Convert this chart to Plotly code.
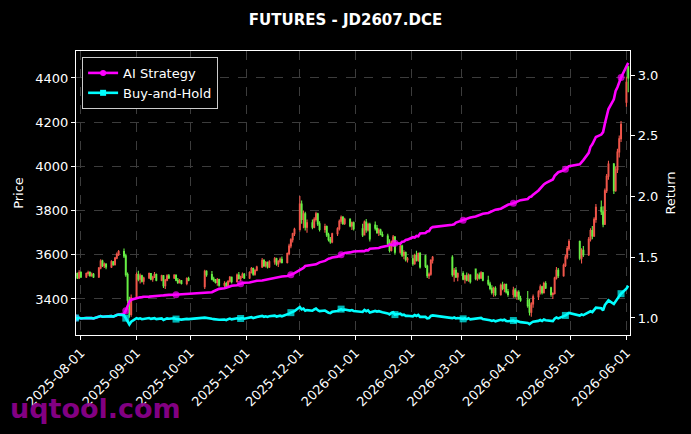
import pandas as pd
import plotly.graph_objects as go

# ---------------- data ----------------
holidays = ["2025-10-01", "2025-10-02", "2025-10-03", "2025-10-06", "2025-10-07", "2025-10-08",
            "2026-01-01", "2026-01-02",
            "2026-02-16", "2026-02-17", "2026-02-18", "2026-02-19", "2026-02-20", "2026-02-23",
            "2026-04-06", "2026-05-01", "2026-05-04", "2026-05-05"]
dates = [d for d in pd.bdate_range("2025-07-29", "2026-06-02") if d.strftime("%Y-%m-%d") not in holidays]

open_ = [
    3505, 3515, 3495,
    3520, 3500, 3515, 3520, 3505, 3512, 3500, 3540, 3572, 3550, 3558, 3545, 3568, 3555, 3585, 3602, 3615, 3595, 3510, 3395, 3330,
    3405, 3510, 3490, 3505, 3480, 3495, 3515, 3490, 3498, 3510, 3485, 3505, 3460, 3485, 3505, 3495, 3508, 3485, 3475, 3482, 3470, 3492,
    3455, 3525, 3510, 3490, 3482, 3475, 3488, 3462, 3470, 3452, 3480, 3498, 3478, 3508, 3492, 3500, 3512,
    3495, 3520, 3538, 3512, 3530, 3545, 3575, 3550, 3565, 3545, 3568, 3582, 3558, 3570, 3580, 3565, 3605, 3640, 3668, 3695,
    3715, 3830, 3760, 3785, 3725, 3745, 3725, 3760, 3785, 3740, 3715, 3728, 3690, 3668, 3658, 3695, 3718, 3752, 3770, 3742, 3760, 3730, 3745,
    3718, 3690, 3748, 3712, 3738, 3735, 3720, 3700, 3712, 3692, 3685, 3650, 3620, 3658, 3680, 3612, 3640, 3598, 3610, 3578,
    3582, 3560, 3598, 3575, 3605, 3595, 3548, 3505, 3512, 3575, 3588, 3510, 3530, 3500,
    3515, 3490, 3505, 3485, 3508, 3535, 3492, 3508, 3495, 3518, 3485, 3468, 3448, 3430, 3448, 3420, 3462, 3448, 3465, 3432, 3420, 3440,
    3412, 3430, 3402, 3395, 3370, 3340, 3378, 3410, 3432, 3455, 3428, 3470, 3450, 3420, 3425, 3495, 3530, 3505, 3552, 3590, 3628,
    3660, 3585, 3620, 3600, 3670, 3710, 3685, 3760, 3815, 3795, 3738, 3890, 3955, 4010, 3890, 3985, 4065, 4125,
    4290, 4450]
high = [
    3525, 3520, 3530,
    3525, 3520, 3528, 3525, 3520, 3518, 3545, 3580, 3578, 3565, 3562, 3575, 3572, 3590, 3610, 3622, 3628, 3605, 3520, 3410, 3420,
    3520, 3528, 3515, 3510, 3500, 3520, 3518, 3505, 3522, 3515, 3510, 3508, 3490, 3512, 3513, 3512, 3510, 3495, 3490, 3486, 3498, 3500,
    3532, 3530, 3527, 3500, 3490, 3495, 3492, 3480, 3478, 3485, 3504, 3502, 3515, 3522, 3505, 3520, 3518,
    3525, 3545, 3542, 3535, 3550, 3585, 3580, 3572, 3570, 3575, 3590, 3586, 3575, 3588, 3592, 3610, 3650, 3675, 3700, 3722,
    3866, 3845, 3800, 3795, 3760, 3760, 3770, 3795, 3790, 3752, 3740, 3732, 3700, 3680, 3700, 3725, 3760, 3778, 3775, 3768, 3765, 3750, 3750,
    3740, 3755, 3762, 3745, 3745, 3750, 3735, 3720, 3718, 3705, 3695, 3670, 3665, 3690, 3685, 3650, 3645, 3620, 3615, 3590,
    3600, 3605, 3618, 3610, 3612, 3600, 3555, 3520, 3580, 3595, 3598, 3540, 3545, 3520,
    3525, 3510, 3520, 3515, 3512, 3538, 3515, 3520, 3525, 3522, 3505, 3478, 3462, 3455, 3458, 3470, 3478, 3470, 3470, 3445, 3455, 3450,
    3438, 3440, 3415, 3436, 3400, 3385, 3420, 3440, 3465, 3460, 3478, 3480, 3455, 3430, 3500, 3545, 3540, 3560, 3600, 3640, 3670,
    3665, 3630, 3640, 3680, 3720, 3730, 3770, 3830, 3845, 3820, 3900, 3965, 4025, 4015, 4000, 4080, 4140, 4205,
    4405, 4455]
low = [
    3495, 3490, 3490,
    3495, 3495, 3505, 3500, 3500, 3495, 3495, 3535, 3545, 3540, 3535, 3540, 3550, 3552, 3580, 3595, 3585, 3500, 3380, 3315, 3320,
    3400, 3480, 3470, 3475, 3465, 3490, 3485, 3478, 3495, 3480, 3480, 3450, 3445, 3480, 3490, 3490, 3480, 3468, 3470, 3466, 3462, 3480,
    3445, 3500, 3485, 3478, 3470, 3460, 3455, 3448, 3445, 3450, 3475, 3470, 3475, 3488, 3480, 3495, 3490,
    3490, 3515, 3505, 3505, 3525, 3540, 3545, 3542, 3538, 3540, 3555, 3550, 3545, 3562, 3560, 3560, 3598, 3630, 3655, 3685,
    3705, 3740, 3720, 3710, 3700, 3715, 3720, 3750, 3730, 3705, 3700, 3680, 3660, 3650, 3652, 3685, 3710, 3740, 3735, 3735, 3725, 3712, 3710,
    3680, 3688, 3700, 3705, 3660, 3710, 3695, 3685, 3688, 3680, 3640, 3610, 3615, 3650, 3600, 3605, 3590, 3580, 3570, 3565,
    3550, 3555, 3570, 3568, 3538, 3540, 3495, 3490, 3505, 3560, 3500, 3478, 3495, 3480,
    3485, 3470, 3480, 3478, 3470, 3485, 3482, 3488, 3490, 3480, 3460, 3440, 3420, 3410, 3412, 3415, 3440, 3430, 3425, 3410, 3405, 3405,
    3395, 3395, 3388, 3360, 3325, 3320, 3360, 3395, 3420, 3420, 3425, 3445, 3410, 3400, 3420, 3488, 3495, 3500, 3545, 3580, 3618,
    3575, 3560, 3590, 3595, 3660, 3670, 3680, 3745, 3780, 3725, 3735, 3880, 3940, 3875, 3885, 3970, 4040, 4110,
    4270, 4335]
close = [
    3515, 3495, 3520,
    3500, 3515, 3520, 3505, 3512, 3500, 3540, 3572, 3550, 3558, 3545, 3568, 3555, 3585, 3602, 3615, 3595, 3510, 3395, 3330, 3405,
    3510, 3490, 3505, 3480, 3495, 3515, 3490, 3498, 3510, 3485, 3505, 3460, 3485, 3505, 3495, 3508, 3485, 3475, 3482, 3470, 3492, 3485,
    3525, 3510, 3490, 3482, 3475, 3488, 3462, 3470, 3452, 3480, 3498, 3478, 3508, 3492, 3500, 3512, 3495,
    3520, 3538, 3512, 3530, 3545, 3575, 3550, 3565, 3545, 3568, 3582, 3558, 3570, 3580, 3565, 3605, 3640, 3668, 3695, 3715,
    3830, 3760, 3785, 3725, 3745, 3725, 3760, 3785, 3740, 3715, 3728, 3690, 3668, 3658, 3695, 3718, 3752, 3770, 3742, 3760, 3730, 3745, 3718,
    3690, 3748, 3712, 3738, 3672, 3720, 3700, 3712, 3692, 3685, 3650, 3620, 3658, 3680, 3612, 3640, 3598, 3610, 3578, 3582,
    3560, 3598, 3575, 3605, 3545, 3548, 3505, 3512, 3575, 3588, 3510, 3530, 3500, 3515,
    3490, 3505, 3485, 3508, 3478, 3492, 3508, 3495, 3518, 3485, 3468, 3448, 3430, 3448, 3420, 3462, 3448, 3465, 3432, 3420, 3440, 3412,
    3430, 3402, 3395, 3370, 3340, 3378, 3410, 3432, 3455, 3428, 3470, 3450, 3420, 3425, 3495, 3530, 3505, 3552, 3590, 3628, 3660,
    3585, 3620, 3600, 3670, 3710, 3685, 3760, 3815, 3795, 3738, 3890, 3955, 4010, 3890, 3985, 4065, 4125, 4190,
    4380, 4400]

ai_strategy = [
    1.000, 0.995, 1.001,
    0.996, 1.000, 1.001, 0.997, 0.999, 0.996, 1.007, 1.016, 1.010, 1.012, 1.009, 1.015, 1.011, 1.020, 1.025, 1.028, 1.035, 1.060, 1.105, 1.135, 1.150,
    1.165, 1.168, 1.170, 1.172, 1.175, 1.176, 1.178, 1.180, 1.181, 1.183, 1.185, 1.186, 1.188, 1.188, 1.190, 1.191, 1.192, 1.194, 1.195, 1.196, 1.198, 1.200,
    1.203, 1.205, 1.212, 1.220, 1.228, 1.232, 1.240, 1.245, 1.252, 1.256, 1.260, 1.265, 1.270, 1.278, 1.282, 1.285, 1.290,
    1.292, 1.296, 1.300, 1.303, 1.306, 1.309, 1.312, 1.315, 1.318, 1.322, 1.326, 1.330, 1.334, 1.338, 1.342, 1.346, 1.350, 1.355, 1.362, 1.370,
    1.395, 1.410, 1.412, 1.428, 1.430, 1.436, 1.440, 1.442, 1.450, 1.458, 1.470, 1.480, 1.488, 1.492, 1.498, 1.505, 1.512, 1.520, 1.528, 1.535, 1.540, 1.543, 1.548,
    1.552, 1.550, 1.558, 1.556, 1.570, 1.572, 1.578, 1.576, 1.582, 1.585, 1.595, 1.605, 1.600, 1.598, 1.615, 1.612, 1.628, 1.630, 1.642, 1.645,
    1.665, 1.662, 1.675, 1.672, 1.695, 1.700, 1.712, 1.715, 1.740, 1.748, 1.768, 1.772, 1.785, 1.790,
    1.805, 1.810, 1.815, 1.822, 1.828, 1.835, 1.840, 1.845, 1.850, 1.858, 1.865, 1.872, 1.880, 1.885, 1.892, 1.900, 1.908, 1.915, 1.925, 1.932, 1.945, 1.952,
    1.958, 1.965, 1.970, 1.980, 1.995, 2.000, 2.015, 2.050, 2.070, 2.080, 2.100, 2.110, 2.130, 2.140, 2.170, 2.190, 2.200, 2.215, 2.225, 2.235, 2.250,
    2.265, 2.280, 2.300, 2.360, 2.410, 2.430, 2.460, 2.490, 2.510, 2.530, 2.600, 2.660, 2.720, 2.800, 2.870, 2.900, 2.940, 2.980,
    3.070, 3.100]

buy_and_hold = [
    1.000, 0.995, 1.001,
    0.996, 1.000, 1.001, 0.997, 0.999, 0.996, 1.007, 1.016, 1.010, 1.012, 1.009, 1.015, 1.011, 1.020, 1.025, 1.028, 1.023, 0.999, 0.966, 0.947, 0.969,
    0.999, 0.993, 0.997, 0.990, 0.994, 1.000, 0.993, 0.995, 0.999, 0.991, 0.997, 0.984, 0.991, 0.997, 0.994, 0.998, 0.991, 0.989, 0.991, 0.987, 0.993, 0.991,
    1.003, 0.999, 0.993, 0.991, 0.989, 0.992, 0.985, 0.987, 0.982, 0.990, 0.995, 0.989, 0.998, 0.993, 0.996, 0.999, 0.994,
    1.001, 1.007, 0.999, 1.004, 1.009, 1.017, 1.010, 1.014, 1.009, 1.015, 1.019, 1.012, 1.016, 1.019, 1.014, 1.026, 1.036, 1.044, 1.051, 1.057,
    1.090, 1.070, 1.077, 1.060, 1.065, 1.060, 1.070, 1.077, 1.064, 1.057, 1.061, 1.050, 1.044, 1.041, 1.051, 1.058, 1.067, 1.073, 1.065, 1.070, 1.061, 1.065, 1.058,
    1.050, 1.066, 1.056, 1.063, 1.045, 1.058, 1.053, 1.056, 1.050, 1.048, 1.038, 1.030, 1.041, 1.047, 1.028, 1.036, 1.024, 1.027, 1.018, 1.019,
    1.013, 1.024, 1.017, 1.026, 1.009, 1.009, 0.997, 0.999, 1.017, 1.021, 0.999, 1.004, 0.996, 1.000,
    0.993, 0.997, 0.991, 0.998, 0.989, 0.993, 0.998, 0.994, 1.001, 0.991, 0.987, 0.981, 0.976, 0.981, 0.973, 0.985, 0.981, 0.986, 0.976, 0.973, 0.979, 0.971,
    0.976, 0.968, 0.966, 0.959, 0.950, 0.961, 0.970, 0.976, 0.983, 0.975, 0.987, 0.981, 0.973, 0.974, 0.994, 1.004, 0.997, 1.011, 1.021, 1.032, 1.041,
    1.020, 1.030, 1.024, 1.044, 1.055, 1.048, 1.070, 1.085, 1.080, 1.063, 1.107, 1.128, 1.145, 1.115, 1.140, 1.162, 1.180, 1.200,
    1.242, 1.265]

month_ticks = ["2025-08-01", "2025-09-01", "2025-10-01", "2025-11-01", "2025-12-01", "2026-01-01",
               "2026-02-01", "2026-03-01", "2026-04-01", "2026-05-01", "2026-06-01"]

# ---------------- figure ----------------
n = len(dates)
mark_every = 20
ai_sizes = [7 if i % mark_every == 0 else 0 for i in range(n)]
bh_sizes = [7 if i % mark_every == 0 else 0 for i in range(n)]

fig = go.Figure()
fig.add_trace(go.Candlestick(
    x=dates, open=open_, high=high, low=low, close=close,
    increasing=dict(line=dict(color="#f0554a", width=1.1), fillcolor="#f0554a"),
    decreasing=dict(line=dict(color="#66ee44", width=1.1), fillcolor="#66ee44"),
    showlegend=False, yaxis="y", whiskerwidth=0,
))
fig.add_trace(go.Scatter(
    x=dates, y=ai_strategy, name="AI Strategy", yaxis="y2", showlegend=False,
    mode="lines+markers", line=dict(color="#ff00ff", width=2.6),
    marker=dict(symbol="circle", size=ai_sizes, color="#ff00ff", line=dict(width=0)),
))
fig.add_trace(go.Scatter(
    x=dates, y=buy_and_hold, name="Buy-and-Hold", yaxis="y2", showlegend=False,
    mode="lines+markers", line=dict(color="#00ffff", width=2.6),
    marker=dict(symbol="square", size=bh_sizes, color="#00ffff", line=dict(width=0)),
))
# legend entries (line with marker, as in the original legend)
fig.add_trace(go.Scatter(
    x=[None], y=[None], name="AI Strategy", yaxis="y2", mode="lines+markers",
    line=dict(color="#ff00ff", width=2.6),
    marker=dict(symbol="circle", size=6, color="#ff00ff", line=dict(width=0)),
))
fig.add_trace(go.Scatter(
    x=[None], y=[None], name="Buy-and-Hold", yaxis="y2", mode="lines+markers",
    line=dict(color="#00ffff", width=2.6),
    marker=dict(symbol="square", size=6, color="#00ffff", line=dict(width=0)),
))

axis_font = dict(family="DejaVu Sans", size=13, color="white")
fig.update_layout(
    width=691, height=434,
    paper_bgcolor="black", plot_bgcolor="black",
    font=dict(family="DejaVu Sans", size=13, color="white"),
    margin=dict(l=76, r=61, t=51, b=99),
    title=dict(text="<b>FUTURES - JD2607.DCE</b>", x=0.5, xanchor="center", y=0.955, yanchor="middle",
               font=dict(family="DejaVu Sans", size=15, color="white")),
    xaxis=dict(
        type="date", range=["2025-07-29 06:00", "2026-06-03"],
        rangeslider=dict(visible=False),
        tickvals=month_ticks, ticktext=month_ticks, tickangle=-45,
        tickfont=axis_font, ticks="outside", ticklen=4, tickcolor="white",
        showgrid=True, gridcolor="#3c3c3c", griddash="dash", gridwidth=0.6,
        showline=True, linecolor="white", linewidth=1.2, mirror=True, zeroline=False,
    ),
    yaxis=dict(
        range=[3237, 4522], tickvals=[3400, 3600, 3800, 4000, 4200, 4400],
        tickfont=axis_font, ticks="outside", ticklen=4, tickcolor="white",
        title=dict(text="Price", font=axis_font, standoff=8),
        showgrid=True, gridcolor="#3c3c3c", griddash="dash", gridwidth=0.6,
        showline=True, linecolor="white", linewidth=1.2, zeroline=False,
    ),
    yaxis2=dict(
        overlaying="y", side="right", range=[0.860, 3.198],
        tickvals=[1.0, 1.5, 2.0, 2.5, 3.0], ticktext=["1.0", "1.5", "2.0", "2.5", "3.0"],
        tickfont=axis_font, ticks="outside", ticklen=4, tickcolor="white",
        title=dict(text="Return", font=axis_font, standoff=8),
        showgrid=False, showline=True, linecolor="white", linewidth=1.2, zeroline=False,
    ),
    legend=dict(
        x=0.011, y=0.979, xanchor="left", yanchor="top",
        bgcolor="black", bordercolor="#cccccc", borderwidth=1,
        font=dict(family="DejaVu Sans", size=13, color="white"),
        itemwidth=30, tracegroupgap=2,
    ),
    annotations=[dict(
        text="<b>uqtool.com</b>", xref="paper", yref="paper", x=-0.122, y=-0.258,
        xanchor="left", yanchor="middle", showarrow=False,
        font=dict(family="DejaVu Sans", size=27, color="rgba(139,0,139,0.95)"),
    )],
)

fig.write_html("out.html")
